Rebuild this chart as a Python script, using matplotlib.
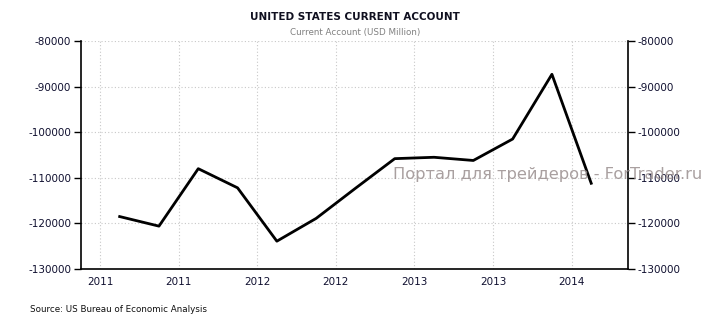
import matplotlib
matplotlib.use('Agg')
import matplotlib.pyplot as plt

# quarterly data, 2011 Q1 .. 2014 Q1 (USD million)
quarters = [2011.125 + 0.25 * i for i in range(13)]
current_account = [-118500, -120600, -108000, -112200, -123900, -118900, -112300,
                   -105800, -105500, -106200, -101500, -87300, -111200]

x_ticks = [2011.0, 2011.5, 2012.0, 2012.5, 2013.0, 2013.5, 2014.0]
x_labels = ['2011', '2011', '2012', '2012', '2013', '2013', '2014']
y_ticks = [-130000, -120000, -110000, -100000, -90000, -80000]

fig = plt.figure(figsize=(7.1, 3.25), dpi=100)
ax = fig.add_axes([81 / 710, 1 - 269 / 325, (628 - 81) / 710, (269 - 41) / 325])

ax.plot(quarters, current_account, color='black', linewidth=2, zorder=3)

ax.set_xlim(2010.879, 2014.359)
ax.set_ylim(-130000, -80000)
ax.set_xticks(x_ticks)
ax.set_xticklabels(x_labels)
ax.set_yticks(y_ticks)
ax.set_yticklabels([str(v) for v in y_ticks])

ax.grid(True, color='#c8c8c8', linestyle=(0, (1, 2)), linewidth=0.8)
ax.spines['top'].set_visible(False)
for side in ['left', 'right', 'bottom']:
    ax.spines[side].set_linewidth(1.2)
ax.tick_params(axis='x', length=0, pad=6, labelsize=7.5, labelcolor='#101030')
ax.tick_params(axis='y', length=5, width=1, direction='out', labelsize=7.5,
               labelcolor='#101030', left=True, right=True, labelleft=True,
               labelright=True, pad=2)

fig.text(0.5, 1 - 17 / 325, 'UNITED STATES CURRENT ACCOUNT', ha='center', va='center',
         fontsize=7.5, fontweight='bold', color='#101020')
fig.text(0.5, 1 - 33 / 325, 'Current Account (USD Million)', ha='center', va='center',
         fontsize=6.3, color='#808080')
fig.text(30 / 710, 1 - 309 / 325, 'Source: US Bureau of Economic Analysis', ha='left',
         va='center', fontsize=6.3, color='#101010')
fig.text(393 / 710, 1 - 175 / 325, 'Портал для трейдеров - ForTrader.ru', ha='left',
         va='center', fontsize=11.7, color='#9a8f8f', alpha=0.85, zorder=5)

fig.savefig('out.png', dpi=100)
